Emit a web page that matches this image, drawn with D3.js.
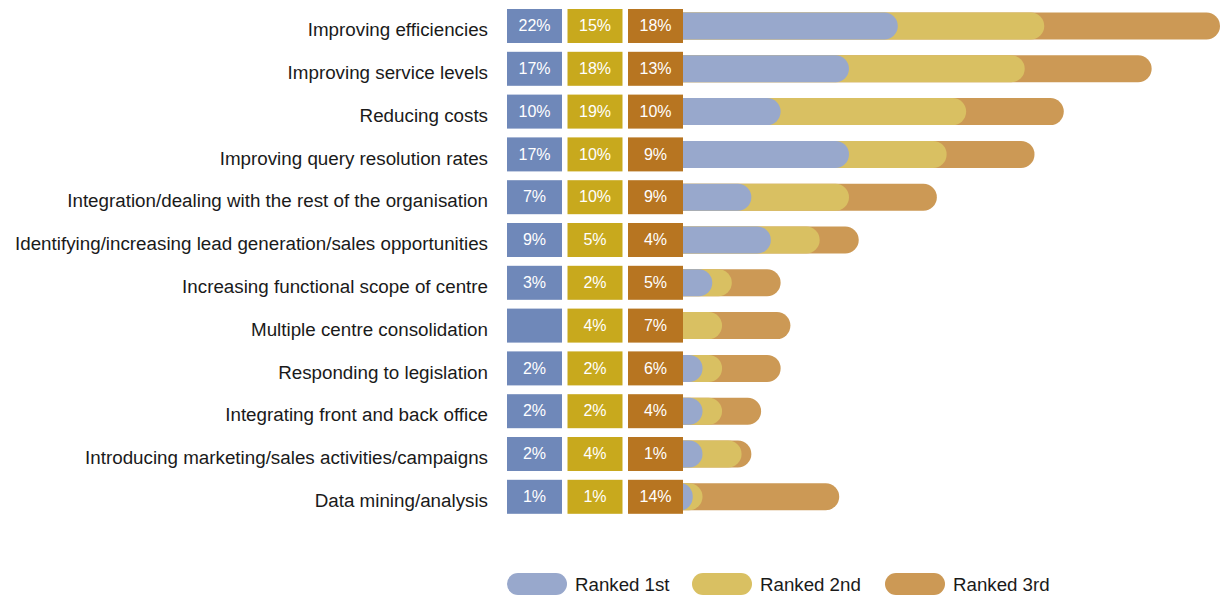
<!DOCTYPE html>
<html><head><meta charset="utf-8">
<script src="https://cdn.jsdelivr.net/npm/d3@7"></script>
<style>body{margin:0;background:#fff;} svg{display:block;font-family:"Liberation Sans",Arial,Helvetica,sans-serif;}</style>
</head><body>
<svg id="c" width="1222" height="596"></svg>
<script>
const categories = ["Improving efficiencies","Improving service levels","Reducing costs","Improving query resolution rates","Integration/dealing with the rest of the organisation","Identifying/increasing lead generation/sales opportunities","Increasing functional scope of centre","Multiple centre consolidation","Responding to legislation","Integrating front and back office","Introducing marketing/sales activities/campaigns","Data mining/analysis"];
const ranked1 = [22,17,10,17,7,9,3,null,2,2,2,1];
const ranked2 = [15,18,19,10,10,5,2,4,2,2,4,1];
const ranked3 = [18,13,10,9,9,4,5,7,6,4,1,14];
const seriesNames = ["Ranked 1st","Ranked 2nd","Ranked 3rd"];
const boxColors = ["#6f88b9","#c8a91d","#b77521"];
const barColors = ["#98a8cc","#d9c062","#cc9955"];

const svg = d3.select("#c");
const series = [ranked1, ranked2, ranked3];
const x = d3.scaleLinear().domain([0,55]).range([683,1220]);
const y = d3.scaleBand().domain(categories).range([4.6,518.2]).paddingInner(0).paddingOuter(0);
const barH = 27, boxH = 34, boxW = 55;
const boxX = [507,567.5,628];

categories.forEach((cat,i)=>{
  const cy = y(cat) + y.bandwidth()/2;
  const g = svg.append("g");
  const cum = [];
  let s = 0;
  series.forEach(a=>{ s += (a[i]||0); cum.push(s); });
  for (let k=2;k>=0;k--){
    if (k===0 && !series[0][i]) continue;
    const x0 = x(0) - barH/2;
    g.append("rect").attr("x",x0).attr("y",cy-barH/2)
      .attr("width",x(cum[k]) - x0).attr("height",barH)
      .attr("rx",barH/2).attr("ry",barH/2).attr("fill",barColors[k]);
  }
  series.forEach((a,k)=>{
    g.append("rect").attr("x",boxX[k]).attr("y",cy-boxH/2).attr("width",boxW).attr("height",boxH).attr("fill",boxColors[k]);
    if (a[i]!=null) g.append("text").attr("x",boxX[k]+boxW/2).attr("y",cy).attr("dy","0.33em")
      .attr("text-anchor","middle").attr("fill","#fff").attr("font-size",16).text(a[i]+"%");
  });
  svg.append("text").attr("x",488).attr("y",cy).attr("dy","0.54em").attr("text-anchor","end")
    .attr("fill","#1a1a1a").attr("font-size",18.8).text(cat);
});

const legX = [507,692,885];
seriesNames.forEach((n,k)=>{
  svg.append("rect").attr("x",legX[k]).attr("y",573).attr("width",60).attr("height",22).attr("rx",11).attr("fill",barColors[k]);
  svg.append("text").attr("x",legX[k]+68).attr("y",584).attr("dy","0.36em").attr("fill","#1a1a1a").attr("font-size",18.7).text(n);
});
</script>
</body></html>
